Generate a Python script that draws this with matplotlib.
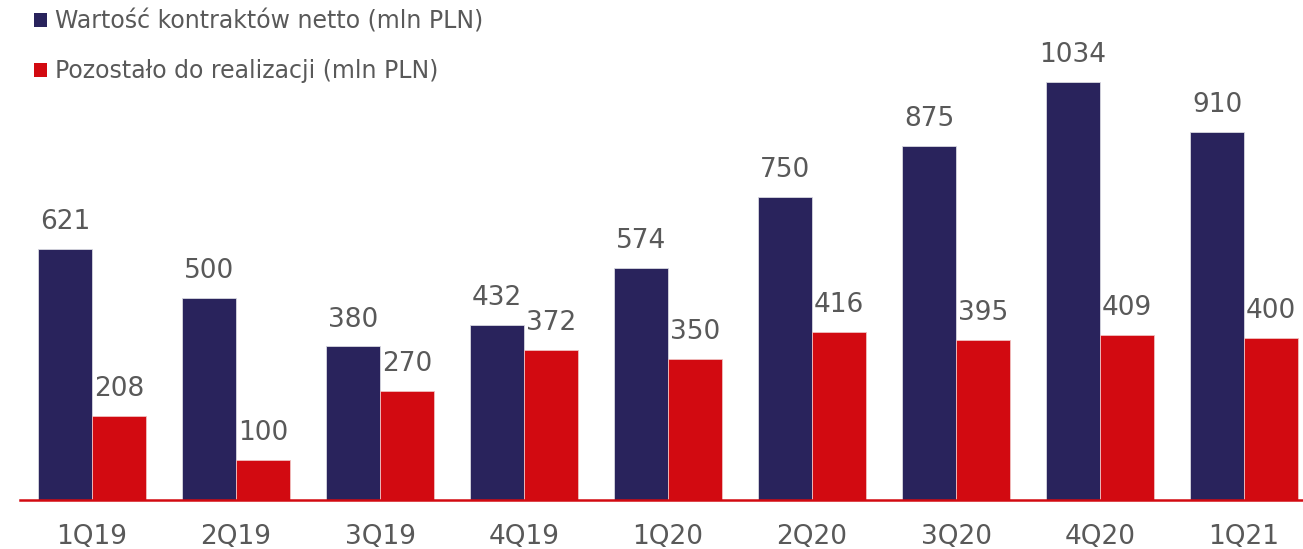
import matplotlib
matplotlib.use("Agg")
import matplotlib.pyplot as plt
import numpy as np

# data
quarters = ["1Q19", "2Q19", "3Q19", "4Q19", "1Q20", "2Q20", "3Q20", "4Q20", "1Q21"]
contracts = [621, 500, 380, 432, 574, 750, 875, 1034, 910]
remaining = [208, 100, 270, 372, 350, 416, 395, 409, 400]
series_labels = ["Wartość kontraktów netto (mln PLN)", "Pozostało do realizacji (mln PLN)"]

NAVY = "#29235C"
RED = "#D20A11"
GRAY = "#595959"

plt.rcParams["font.family"] = ["DejaVu Sans"]

fig = plt.figure(figsize=(13.03, 5.49), dpi=100)
W, H = 1303, 549
ax = fig.add_axes([20 / W, 49 / H, (W - 20) / W, 500 / H])

x = np.arange(len(quarters))
w = 0.375
b1 = ax.bar(x - w / 2, contracts, w, color=NAVY, edgecolor="#d8d8e0", linewidth=0.6, label=series_labels[0])
b2 = ax.bar(x + w / 2, remaining, w, color=RED, edgecolor="#f0c0c0", linewidth=0.6, label=series_labels[1])

for bars in (b1, b2):
    for bar in bars:
        h = bar.get_height()
        ax.annotate(f"{int(h)}", (bar.get_x() + bar.get_width() / 2, h),
                    xytext=(0, 10), textcoords="offset points",
                    ha="center", va="bottom", fontsize=19, color=GRAY)

ax.set_xlim(-0.5, (W - 92) / 144)
ax.set_ylim(0, 1237)
ax.set_xticks(x)
ax.set_xticklabels(quarters, fontsize=19, color=GRAY)
ax.tick_params(axis="x", length=0, pad=17)
ax.set_yticks([])
for s in ["top", "right", "left"]:
    ax.spines[s].set_visible(False)
ax.spines["bottom"].set_color(RED)
ax.spines["bottom"].set_linewidth(1.8)

leg = fig.legend(loc="upper left", bbox_to_anchor=(25 / W, 1), frameon=False,
                 fontsize=17, handlelength=0.55, handleheight=0.55, handletextpad=0.3,
                 labelspacing=1.1, borderaxespad=0)
for t in leg.get_texts():
    t.set_color(GRAY)
for p in leg.get_patches():
    p.set_edgecolor("none")

fig.savefig("out.png", dpi=100)
